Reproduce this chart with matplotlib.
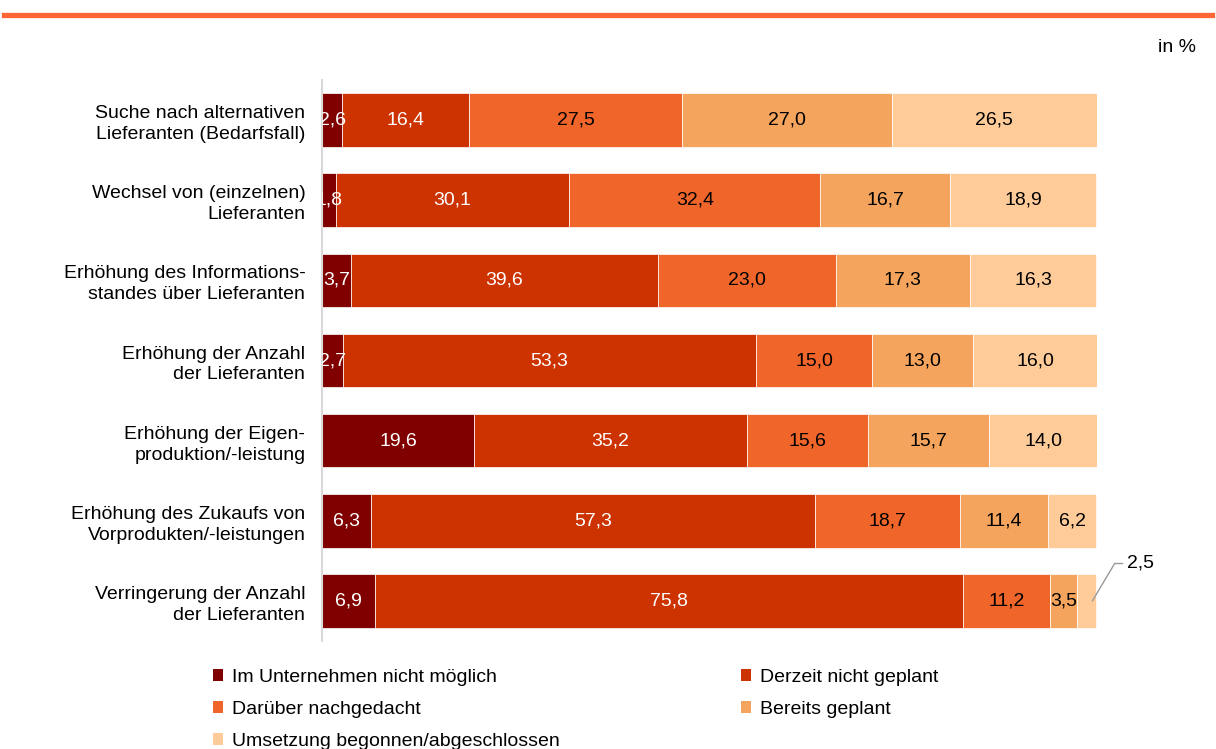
import matplotlib
matplotlib.use("Agg")
import matplotlib.pyplot as plt
from matplotlib.patches import Patch
from matplotlib.lines import Line2D

plt.rcParams['font.family'] = ['Liberation Sans', 'DejaVu Sans']

categories = [
    "Suche nach alternativen\nLieferanten (Bedarfsfall)",
    "Wechsel von (einzelnen)\nLieferanten",
    "Erhöhung des Informations-\nstandes über Lieferanten",
    "Erhöhung der Anzahl\nder Lieferanten",
    "Erhöhung der Eigen-\nproduktion/-leistung",
    "Erhöhung des Zukaufs von\nVorprodukten/-leistungen",
    "Verringerung der Anzahl\nder Lieferanten",
]
series_names = [
    "Im Unternehmen nicht möglich",
    "Derzeit nicht geplant",
    "Darüber nachgedacht",
    "Bereits geplant",
    "Umsetzung begonnen/abgeschlossen",
]
nicht_moeglich = [2.6, 1.8, 3.7, 2.7, 19.6, 6.3, 6.9]
nicht_geplant = [16.4, 30.1, 39.6, 53.3, 35.2, 57.3, 75.8]
nachgedacht = [27.5, 32.4, 23.0, 15.0, 15.6, 18.7, 11.2]
geplant = [27.0, 16.7, 17.3, 13.0, 15.7, 11.4, 3.5]
umsetzung = [26.5, 18.9, 16.3, 16.0, 14.0, 6.2, 2.5]
series = [nicht_moeglich, nicht_geplant, nachgedacht, geplant, umsetzung]
colors = ["#800000", "#CC3300", "#F0662A", "#F4A45C", "#FFCC99"]
text_colors = ["white", "white", "black", "black", "black"]

W, H = 1216, 749
fig = plt.figure(figsize=(W / 100, H / 100), dpi=100)
ax = fig.add_axes([322 / W, 1 - 641 / H, (1097 - 322) / W, (641 - 80) / H])

fs = 14
ypos = list(range(len(categories)))
left = [0.0] * len(categories)
for s, vals in enumerate(series):
    ax.barh(ypos, vals, left=left, height=0.67, color=colors[s],
            edgecolor="white", linewidth=0.5)
    for i, v in enumerate(vals):
        cx = left[i] + v / 2
        if i == 6 and s == 4:
            # external label with leader line
            ax.annotate("", xy=(left[i] + v * 0.8, i), xytext=(102.3, i - 0.47),
                        arrowprops=dict(arrowstyle="-", color="#999999", lw=1,
                                        shrinkA=0, shrinkB=0),
                        annotation_clip=False)
            ax.plot([102.3, 103.2], [i - 0.47, i - 0.47], color="#999999", lw=1,
                    clip_on=False)
            ax.text(103.9, i - 0.47, "2,5", ha="left", va="center", fontsize=fs,
                    color="black", clip_on=False)
            continue
        lbl = f"{v:.1f}".replace(".", ",")
        t = ax.text(cx, i, lbl, ha="center", va="center", fontsize=fs,
                    color=text_colors[s], clip_on=True)
        t.set_clip_path(ax.patch)
    left = [l + v for l, v in zip(left, vals)]

ax.set_xlim(0, 100)
ax.set_ylim(6.5, -0.5)
ax.set_xticks([])
ax.set_yticks(ypos)
ax.set_yticklabels(categories, fontsize=fs, ha="right", linespacing=1.3)
ax.tick_params(axis="y", length=0, pad=12)
for sp in ["top", "right", "bottom"]:
    ax.spines[sp].set_visible(False)
ax.spines["left"].set_color("#D9D9D9")
ax.spines["left"].set_linewidth(1.5)

# top orange rule
fig.add_artist(Line2D([4 / W, 1212 / W], [1 - 15 / H, 1 - 15 / H],
                      color="#FF6633", lw=3.8, transform=fig.transFigure))
fig.text(1196 / W, 1 - 47 / H, "in %", ha="right", va="center", fontsize=fs)

order = [0, 2, 4, 1, 3]
handles = [Patch(facecolor=colors[k], edgecolor="none") for k in order]
labels = [series_names[k] for k in order]
fig.legend(handles, labels, loc="upper left", bbox_to_anchor=(213 / W, 1 - 669 / H),
           ncol=2, frameon=False, fontsize=fs, handlelength=0.5, handleheight=0.55,
           handletextpad=0.5, columnspacing=9.3, labelspacing=0.76,
           borderaxespad=0, borderpad=0)

fig.savefig("out.png", dpi=100)
